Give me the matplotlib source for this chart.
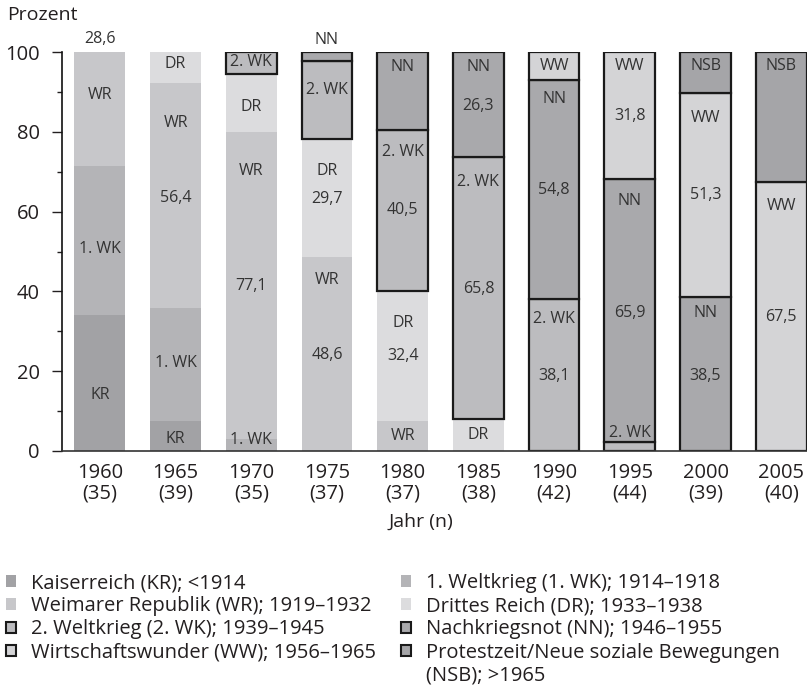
import numpy as np
import matplotlib
matplotlib.use("Agg")
import matplotlib.pyplot as plt
from matplotlib.patches import Patch

plt.rcParams['font.family'] = ['Open Sans', 'DejaVu Sans']

# data (percent per period of reference)
years = ["1960", "1965", "1970", "1975", "1980", "1985", "1990", "1995", "2000", "2005"]
n_cases = [35, 39, 35, 37, 37, 38, 42, 44, 39, 40]

kr = [34.0, 7.5, 0, 0, 0, 0, 0, 0, 0, 0]
wk1 = [37.4, 28.4, 2.9, 0, 0, 0, 0, 0, 0, 0]
wr = [28.6, 56.4, 77.1, 48.6, 7.6, 0, 0, 0, 0, 0]
dr = [0, 7.7, 14.4, 29.7, 32.4, 7.9, 0, 0, 0, 0]
wk2 = [0, 0, 5.6, 19.4, 40.5, 65.8, 38.1, 2.3, 0, 0]
nn = [0, 0, 0, 2.3, 19.5, 26.3, 54.8, 65.9, 38.5, 0]
ww = [0, 0, 0, 0, 0, 0, 7.1, 31.8, 51.3, 67.5]
nsb = [0, 0, 0, 0, 0, 0, 0, 0, 10.2, 32.5]

series = [kr, wk1, wr, dr, wk2, nn, ww, nsb]
legend_names = [
    "Kaiserreich (KR); <1914",
    "1. Weltkrieg (1. WK); 1914–1918",
    "Weimarer Republik (WR); 1919–1932",
    "Drittes Reich (DR); 1933–1938",
    "2. Weltkrieg (2. WK); 1939–1945",
    "Nachkriegsnot (NN); 1946–1955",
    "Wirtschaftswunder (WW); 1956–1965",
    "Protestzeit/Neue soziale Bewegungen",
]
colors = ["#a2a2a5", "#b4b4b7", "#c7c7ca", "#dcdcde",
          "#bcbcbf", "#a9a9ac", "#d4d4d6", "#a5a5a8"]
boxed = [False, False, False, False, True, True, True, True]

# in-bar labels: (bar index, height in %, text)
labels = [
    (0, 14.0, "KR"), (0, 50.6, "1. WK"), (0, 89.3, "WR"), (0, 103.2, "28,6"),
    (1, 2.9, "KR"), (1, 22.1, "1. WK"), (1, 63.5, "56,4"), (1, 82.1, "WR"), (1, 97.0, "DR"),
    (2, 2.8, "1. WK"), (2, 41.3, "77,1"), (2, 70.2, "WR"), (2, 86.1, "DR"), (2, 97.4, "2. WK"),
    (3, 24.0, "48,6"), (3, 42.8, "WR"), (3, 63.1, "29,7"), (3, 70.2, "DR"), (3, 90.6, "2. WK"), (3, 103.0, "NN"),
    (4, 3.7, "WR"), (4, 23.7, "32,4"), (4, 32.0, "DR"), (4, 60.4, "40,5"), (4, 75.0, "2. WK"), (4, 96.2, "NN"),
    (5, 3.9, "DR"), (5, 40.5, "65,8"), (5, 67.5, "2. WK"), (5, 86.5, "26,3"), (5, 96.3, "NN"),
    (6, 18.8, "38,1"), (6, 33.0, "2. WK"), (6, 65.4, "54,8"), (6, 88.2, "NN"), (6, 96.6, "WW"),
    (7, 4.5, "2. WK"), (7, 34.6, "65,9"), (7, 62.7, "NN"), (7, 84.0, "31,8"), (7, 96.6, "WW"),
    (8, 18.8, "38,5"), (8, 34.6, "NN"), (8, 64.1, "51,3"), (8, 83.4, "WW"), (8, 96.6, "NSB"),
    (9, 33.5, "67,5"), (9, 61.4, "WW"), (9, 96.6, "NSB"),
]

txt = "#231f20"
edge = "#1a1a1a"
fig = plt.figure(figsize=(8.07, 6.87), dpi=100)
ax = fig.add_axes([62 / 807, 1 - 451 / 687, 1 - 62 / 807, (451 - 52) / 687])

x = np.arange(len(years))
bottom = np.zeros(len(years))
handles = []
for vals, col, box, name in zip(series, colors, boxed, legend_names):
    vals = np.array(vals, dtype=float)
    lw = [1.6 if (box and v > 0) else 0 for v in vals]
    ax.bar(x, vals, width=0.67, bottom=bottom, color=col,
           edgecolor=edge if box else col, linewidth=lw, zorder=2)
    handles.append(Patch(facecolor=col, edgecolor=edge if box else col,
                         linewidth=1.5 if box else 0))
    bottom += vals

for i, y, t in labels:
    ax.text(x[i], y, t, ha="center", va="center", fontsize=11.5, color="#333333",
            clip_on=False, zorder=3)

ax.set_xlim(-0.5, 9.34)
ax.set_ylim(0, 100)
ax.set_yticks([0, 20, 40, 60, 80, 100])
ax.set_yticks([10, 30, 50, 70, 90], minor=True)
ax.tick_params(axis="y", which="major", length=7.2, width=1, pad=9, labelsize=14.5, colors=txt)
ax.tick_params(axis="y", which="minor", length=3.6, width=1, colors=txt)
ax.set_xticks(x)
ax.set_xticklabels([f"{y}\n({n})" for y, n in zip(years, n_cases)], linespacing=1.0)
ax.tick_params(axis="x", length=0, pad=9, labelsize=14.5, colors=txt)
for s in ["top", "right"]:
    ax.spines[s].set_visible(False)
ax.spines["left"].set_linewidth(1.2)
ax.spines["bottom"].set_linewidth(1.2)
ax.spines["left"].set_color("#111111")
ax.spines["bottom"].set_color("#333333")

fig.text(7 / 807, 1 - 15 / 687, "Prozent", fontsize=14, color=txt, va="center", ha="left")
fig.text(421 / 807, 1 - 522 / 687, "Jahr (n)", fontsize=14, color=txt, va="center", ha="center")

leg_kw = dict(frameon=False, fontsize=14.5, handlelength=0.5, handleheight=0.5,
              handletextpad=0.75, labelspacing=0.16, borderpad=0, borderaxespad=0,
              loc="upper left", labelcolor=txt)
left_idx = [0, 2, 4, 6]
right_idx = [1, 3, 5, 7]
fig.legend([handles[i] for i in left_idx], [legend_names[i] for i in left_idx],
           bbox_to_anchor=(6 / 807, 1 - 573 / 687), **leg_kw)
blank = Patch(facecolor="none", edgecolor="none")
fig.legend([handles[i] for i in right_idx] + [blank],
           [legend_names[i] for i in right_idx] + ["(NSB); >1965"],
           bbox_to_anchor=(401 / 807, 1 - 573 / 687), **leg_kw)

fig.savefig("out.png", dpi=100)
